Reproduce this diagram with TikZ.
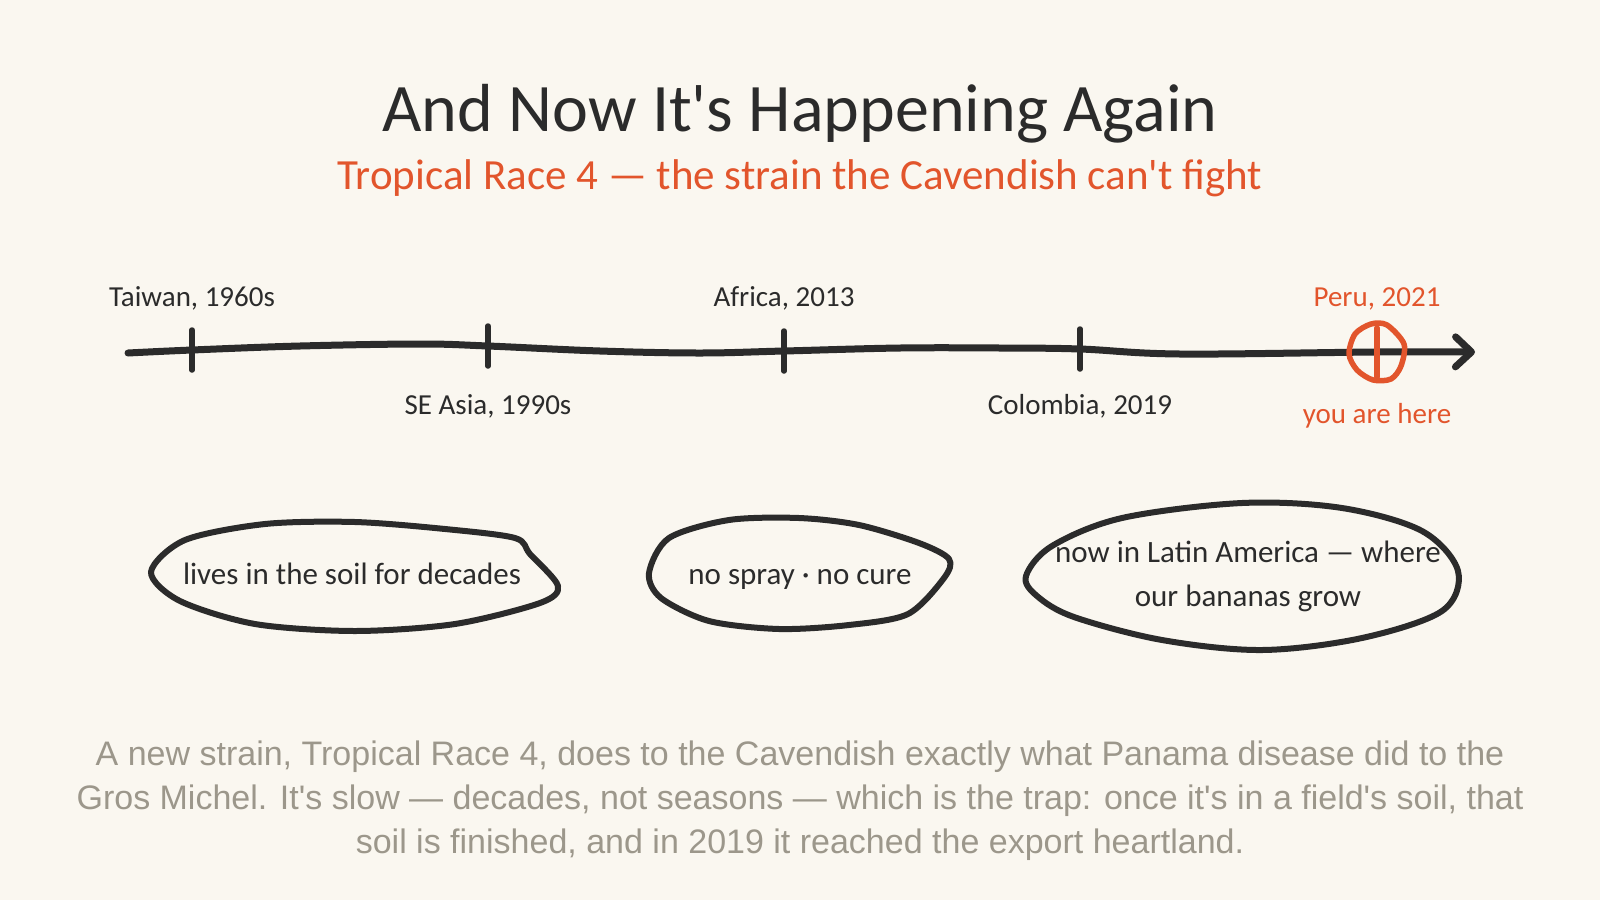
\documentclass[tikz,border=0pt]{standalone}
\usepackage{fontspec}
\setmainfont{Carlito}[Ligatures=TeXOff]
\newfontfamily\bodyfont{Liberation Sans}
\usetikzlibrary{arrows.meta,positioning}
\definecolor{ink}{HTML}{2B2B2B}
\definecolor{rust}{HTML}{E2552C}
\definecolor{stone}{HTML}{9C978B}
\definecolor{paper}{HTML}{FAF7F0}

\begin{document}
\begin{tikzpicture}
	[x=1pt,y=-1pt,
	every node/.style={text=ink,inner sep=0pt,anchor=base},
	hand/.style={font=\fontsize{29}{43}\selectfont},
	bubble/.style={font=\fontsize{31}{44}\selectfont},
	blob/.style={draw=ink,line width=6pt,line join=round},
	tickmark/.style={draw=ink,line width=5.5pt,line cap=round}]

	\fill[paper] (0,0) rectangle (1600,900);
	\useasboundingbox (0,0) rectangle (1600,900);

	\node (title) at (800,131) {\fontsize{68}{74}\selectfont And Now It's Happening Again};
	\node (sub) at (800,189) [text=rust] {\fontsize{43}{48}\selectfont Tropical Race 4 — the strain the Cavendish can't fight};

	% timeline
	\coordinate (tl0) at (128,353);
	\coordinate (t1) at (192,350);
	\coordinate (t2) at (488,346);
	\coordinate (t3) at (784,351);
	\coordinate (t4) at (1080,349);
	\coordinate (now) at (1377,352);
	\coordinate (tlend) at (1475,352);

	\draw[ink,line width=7pt,line cap=round,
		-{Straight Barb[length=16pt,width=30pt,line cap=round,line join=round]}]
		plot[smooth,tension=0.6] coordinates {(tl0) (t1) (300,346) (420,344) (t2) (600,351)
		(700,353) (t3) (900,348) (1000,348) (t4) (1180,354) (now) (tlend)};

	\foreach \t in {t1,t2,t3,t4}
	\draw[tickmark] ([yshift=20pt]\t) -- ([yshift=-20pt]\t);

	\node[hand] (taiwan) at (192,306) {Taiwan, 1960s};
	\node[hand] (asia) at (488,414) {SE Asia, 1990s};
	\node[hand] (africa) at (784,306) {Africa, 2013};
	\node[hand] (colombia) at (1080,414) {Colombia, 2019};
	\node[hand,text=rust] (peru) at (1377,306) {Peru, 2021};
	\node[hand,text=rust] (here) at (1377,423) {you are here};

	\draw[rust,line width=5.5pt,line join=round,shift={(now)}]
		plot[smooth cycle,tension=0.5] coordinates {(-28,2) (-22,-18) (-6,-28) (10,-27) (27,-8)
		(24,14) (14,27) (-4,28) (-20,18)};
	\draw[rust,line width=5.5pt,line cap=round] ([yshift=24pt]now) -- ([yshift=-25pt]now);

	% blobs
	\node[bubble] (soil) at (352,584) {lives in the soil for decades};
	\node[bubble] (spray) at (800,584) {no spray · no cure};
	\node[bubble,align=center] (latam) at (1248,606) {now in Latin America — where\\our bananas grow};

	\draw[blob,shift={(355,576)}] plot[smooth cycle,tension=0.5] coordinates {(-204,-4) (-170,-36)
		(-90,-52) (0,-54) (90,-47) (160,-38) (175,-22) (203,10) (185,27) (100,48) (0,55)
		(-100,48) (-175,25)};
	\draw[blob,shift={(799,573)}] plot[smooth cycle,tension=0.5] coordinates {(-150,0) (-130,-35)
		(-70,-53) (0,-55) (60,-48) (120,-30) (150,-14) (145,5) (109,41) (50,52) (-20,56)
		(-90,48) (-138,25)};
	\draw[blob,shift={(1242,576)}] plot[smooth cycle,tension=0.55] coordinates {(-216,0) (-190,-30)
		(-120,-58) (0,-73) (100,-68) (180,-45) (216,-5) (200,35) (120,62) (20,74) (-80,64)
		(-168,41) (-205,20)};

	\node[font=\bodyfont\fontsize{34}{44}\selectfont,text=stone,align=center] (note) at (800,853)
		{A new strain, Tropical Race 4, does to the Cavendish exactly what Panama disease did to the\\
		Gros Michel. It's slow — decades, not seasons — which is the trap: once it's in a field's soil, that\\
		soil is finished, and in 2019 it reached the export heartland.};
\end{tikzpicture}
\end{document}
